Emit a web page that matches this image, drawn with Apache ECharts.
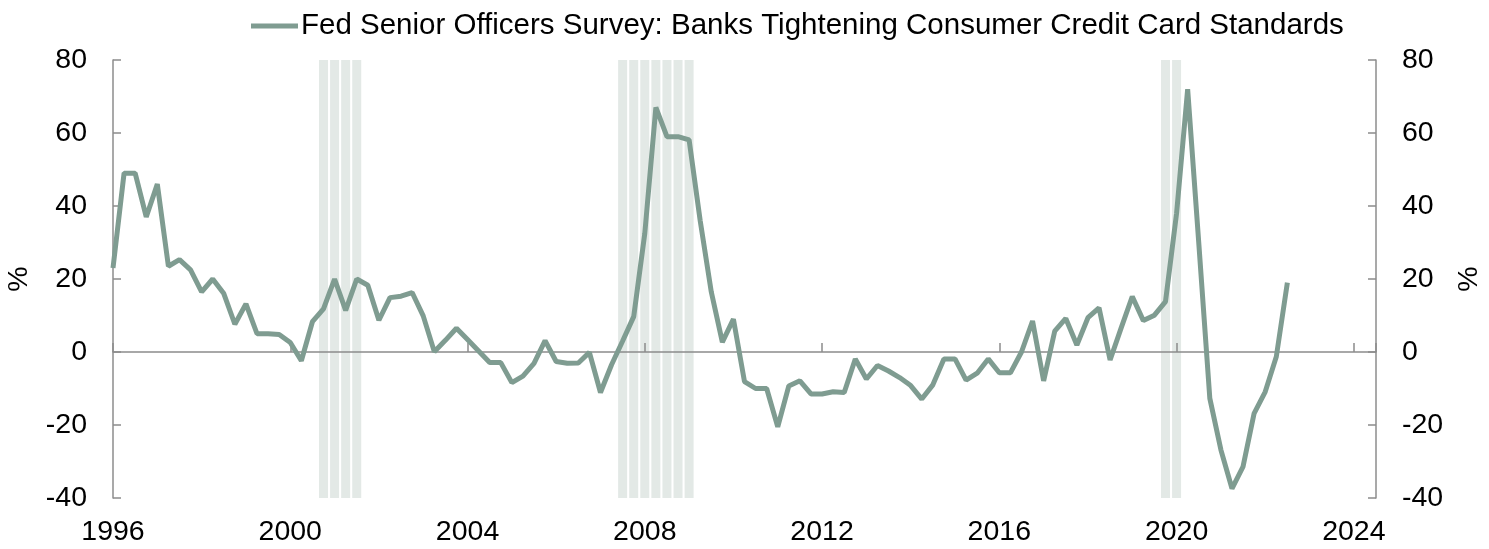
<!DOCTYPE html>
<html>
<head>
<meta charset="utf-8">
<script src="https://cdn.jsdelivr.net/npm/echarts@6/dist/echarts.min.js"></script>
<style>
  html, body { margin: 0; padding: 0; background: #fff; }
  #chart { width: 1489px; height: 549px; }
</style>
</head>
<body>
<div id="chart"></div>
<script>
const seriesName = 'Fed Senior Officers Survey: Banks Tightening Consumer Credit Card Standards'
const startYear = 1996 // first observation is 1996Q1, quarterly

// net % of banks tightening, one value per quarter from 1996Q1 to 2022Q3
const tightening = [
  23, 49, 49, 37, 46, 23.5, 25.3, 22.5, 16.5, 20, 16, 7.6, 13.2, 5, 5, 4.8,
  2.6, -2.4, 8.3, 11.8, 20, 11.4, 20, 18.3, 8.7, 14.9, 15.3, 16.3, 9.9, 0.1, 3.2, 6.5,
  3.4, 0.3, -2.9, -2.9, -8.4, -6.6, -3.1, 3.1, -2.6, -3.1, -3, -0.1, -11.1, -3.5, 3, 9.7,
  32.5, 67, 59, 59, 58.1, 36, 16.5, 2.7, 9, -8.1, -10, -10, -20.5, -9.3, -7.9, -11.5,
  -11.5, -10.9, -11.1, -1.9, -7.4, -3.7, -5.2, -7, -9.2, -12.9, -9, -1.9, -1.9, -7.7, -5.8, -1.9,
  -5.7, -5.7, 0, 8.5, -7.9, 5.7, 9.2, 1.9, 9.4, 12.1, -2.2, 6.6, 15.2, 8.6, 10.1, 13.8,
  38, 72, 30, -12.7, -26.8, -37.4, -31.4, -16.8, -10.9, -1.3, 19
]

// shaded recession quarters
const recessionQuarters = [
  '2000Q4', '2001Q1', '2001Q2', '2001Q3',
  '2007Q3', '2007Q4', '2008Q1', '2008Q2', '2008Q3', '2008Q4', '2009Q1',
  '2019Q4', '2020Q1'
]

const yTicks = [-40, -20, 0, 20, 40, 60, 80]
const xTickYears = [1996, 2000, 2004, 2008, 2012, 2016, 2020, 2024]

function quarterToX(q) {
  return Number(q.slice(0, 4)) + (Number(q.slice(5)) - 1) / 4
}

const lineData = tightening.map((v, i) => [startYear + i / 4, v])
const recessionData = recessionQuarters.map(q => [quarterToX(q), 1])

const font = 'Liberation Sans, Arial, sans-serif'
const axisGrey = '#8c8c8c'
const lineColor = '#7f9c91'
const labelSize = 28.5

const chart = echarts.init(document.getElementById('chart'))

const xBase = {
  type: 'value',
  min: xTickYears[0],
  max: 2024.5,
  interval: 4,
  splitLine: { show: false }
}

const yBase = {
  type: 'value',
  min: yTicks[0],
  max: yTicks[yTicks.length - 1],
  interval: 20,
  splitLine: { show: false },
  axisLine: { show: true, onZero: false, lineStyle: { color: axisGrey, width: 1.5 } },
  axisTick: { show: true, inside: true, length: 8, lineStyle: { color: axisGrey, width: 1.5 } },
  axisLabel: { color: '#000', fontSize: labelSize, fontFamily: font, margin: 26 },
  name: '%',
  nameLocation: 'middle',
  nameRotate: 90,
  nameGap: 79,
  nameTextStyle: { color: '#000', fontSize: labelSize, fontFamily: font }
}

chart.setOption({
  animation: false,
  backgroundColor: '#fff',
  legend: {
    data: [seriesName],
    left: 246,
    top: 6,
    itemWidth: 47,
    itemHeight: 5,
    itemGap: 10,
    icon: 'rect',
    textStyle: { color: '#000', fontSize: 29.5, fontFamily: font, padding: [0, 0, 0, -2] }
  },
  grid: { left: 113, right: 113, top: 60, bottom: 51, containLabel: false, outerBoundsMode: 'none' },
  xAxis: [
    Object.assign({}, xBase, {
      z: 3,
      axisLine: { show: true, onZero: true, onZeroAxisIndex: 0, lineStyle: { color: axisGrey, width: 1.5 } },
      axisTick: { show: true, inside: true, length: 9, lineStyle: { color: axisGrey, width: 1.5 } },
      axisLabel: { show: false }
    }),
    Object.assign({}, xBase, {
      position: 'bottom',
      axisLine: { show: false, onZero: false },
      axisTick: { show: false },
      axisLabel: {
        color: '#000',
        fontSize: labelSize,
        fontFamily: font,
        margin: 20,
        formatter: v => (xTickYears.indexOf(v) >= 0 ? String(v) : '')
      }
    })
  ],
  yAxis: [
    Object.assign({}, yBase, { position: 'left' }),
    Object.assign({}, yBase, { position: 'right' }),
    { type: 'value', min: 0, max: 1, show: false }
  ],
  series: [
    {
      name: 'Recession',
      type: 'bar',
      xAxisIndex: 0,
      yAxisIndex: 2,
      barWidth: 9,
      z: 1,
      itemStyle: { color: '#e3e9e6' },
      data: recessionData
    },
    {
      name: seriesName,
      type: 'line',
      xAxisIndex: 0,
      yAxisIndex: 0,
      z: 4,
      showSymbol: false,
      lineStyle: { color: lineColor, width: 5 },
      itemStyle: { color: lineColor },
      data: lineData
    }
  ]
})
</script>
</body>
</html>
